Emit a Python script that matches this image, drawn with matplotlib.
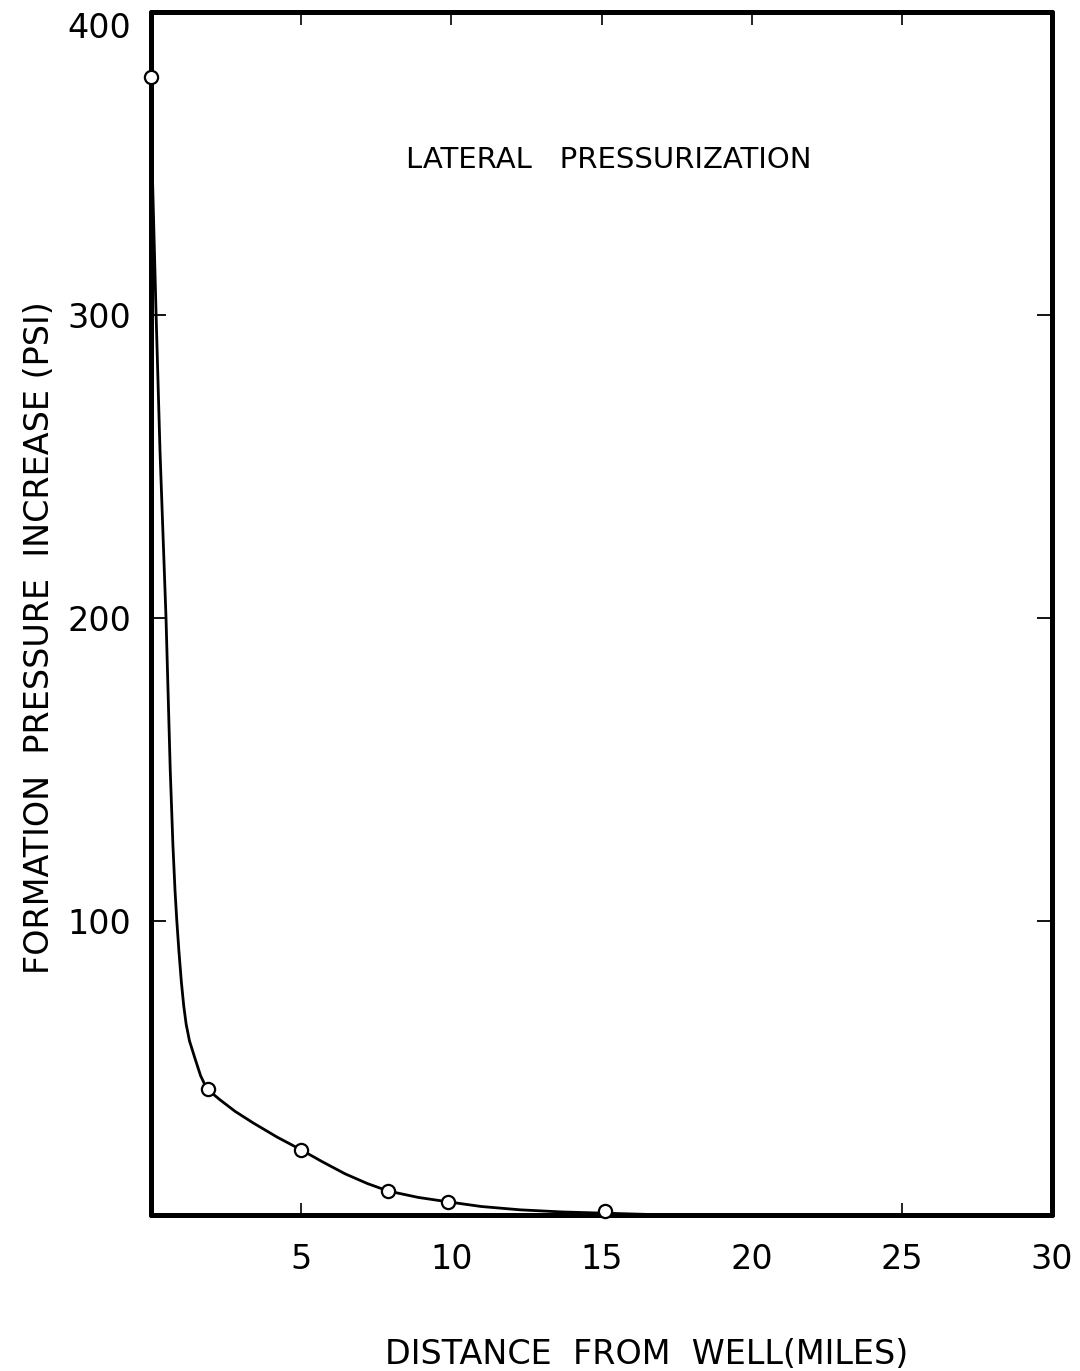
import matplotlib
matplotlib.use("Agg")
import matplotlib.pyplot as plt
import matplotlib.transforms as mtransforms

# Measured data points (distance in miles, pressure increase in psi)
distance_mi = [0.0, 1.9, 5.0, 7.9, 9.9, 15.1]
pressure_psi = [378.5, 44.6, 24.5, 11.0, 7.3, 4.3]

# Hand-drawn curve
curve_x = [0.03, 0.05, 0.17, 0.30, 0.50, 0.64, 0.73, 0.80, 0.86, 0.93, 1.01,
           1.09, 1.17, 1.28, 1.47, 1.65, 1.86, 2.3, 2.8, 3.4, 4.2, 5.0, 5.7,
           6.46, 7.2, 7.9, 8.9, 9.92, 11.0, 12.3, 13.7, 15.1, 16.5, 17.6]
curve_y = [378.5, 345, 300, 255, 200, 150, 125, 110, 100, 90, 80,
           72, 66, 60.5, 54.5, 49, 44.6, 41.0, 37.2, 33.4, 28.7, 24.5, 20.6,
           16.6, 13.4, 10.9, 8.8, 7.3, 5.8, 4.7, 4.0, 3.6, 3.2, 3.0]

x_ticks = [5, 10, 15, 20, 25, 30]
y_ticks = [100, 200, 300, 400]

plt.rcParams['font.family'] = ['DejaVu Sans']

fig = plt.figure(figsize=(10.8, 13.71), dpi=100)
ax = fig.add_axes([151 / 1080, 156 / 1371, 901 / 1080, 1203 / 1371])

ax.plot(curve_x, curve_y, color='black', lw=2.0, zorder=3, clip_on=False,
        solid_joinstyle='round')
ax.plot(distance_mi, pressure_psi, 'o', ms=9.5, mfc='white', mec='black',
        mew=1.6, zorder=4, clip_on=False)

ax.set_xlim(0, 30)
ax.set_ylim(3, 400)

for s in ax.spines.values():
    s.set_linewidth(3.6)
    s.set_capstyle('round')

ax.set_xticks(x_ticks)
ax.set_xticklabels([str(v) for v in x_ticks], fontsize=24)
ax.set_yticks(y_ticks)
ax.set_yticklabels([str(v) for v in y_ticks], fontsize=24)
ax.tick_params(axis='x', direction='in', length=9, width=1.2, pad=20,
               top=True, bottom=True)
ax.tick_params(axis='y', direction='in', length=11, width=1.3, pad=14,
               left=True, right=True)

# hide ticks that were not drawn in the original
for t, v in zip(ax.xaxis.get_major_ticks(), x_ticks):
    if v in (10, 15, 20, 30):
        t.tick1line.set_visible(False)
    if v == 30:
        t.tick2line.set_visible(False)
for t, v in zip(ax.yaxis.get_major_ticks(), y_ticks):
    if v == 400:
        t.tick1line.set_visible(False)
        t.tick2line.set_visible(False)
        lab = t.label1
        lab.set_transform(lab.get_transform() +
                          mtransforms.ScaledTranslation(0, -13 / 100, fig.dpi_scale_trans))

ax.text(0.508, 0.877, 'LATERAL   PRESSURIZATION', transform=ax.transAxes,
        ha='center', va='center', fontsize=21)

fig.text(647 / 1080, 1 - 1355 / 1371, 'DISTANCE  FROM  WELL(MILES)',
         ha='center', va='center', fontsize=24)
fig.text(40 / 1080, 1 - 638 / 1371, 'FORMATION  PRESSURE  INCREASE (PSI)',
         ha='center', va='center', rotation=90, fontsize=24)

fig.savefig('out.png', dpi=100)
